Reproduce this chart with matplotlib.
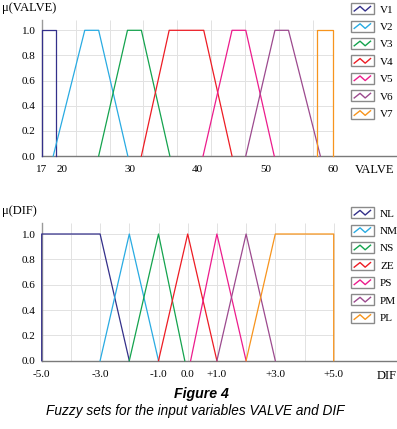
import numpy as np
import matplotlib
matplotlib.use('Agg')
import matplotlib.pyplot as plt
from matplotlib.legend_handler import HandlerBase
from matplotlib.patches import Rectangle
from matplotlib.lines import Line2D

# Conjuntos difusos de VALVE: esquinas del trapecio (a, b, c, d)
valve_labels = ['V1', 'V2', 'V3', 'V4', 'V5', 'V6', 'V7']
valve_a = [17.0, 18.7, 25.4, 31.7, 40.8, 47.1, 57.6]
valve_b = [17.0, 23.35, 29.65, 35.8, 45.07, 51.4, 57.6]
valve_c = [19.1, 25.4, 31.7, 40.9, 47.1, 53.4, 60.0]
valve_d = [19.1, 29.7, 35.9, 45.07, 51.3, 58.1, 60.0]
valve_ticks = [17, 20, 30, 40, 50, 60]

# Conjuntos difusos de DIF
dif_labels = ['NL', 'NM', 'NS', 'ZE', 'PS', 'PM', 'PL']
dif_a = [-5.0, -3.0, -2.0, -1.0, 0.1, 1.0, 2.0]
dif_b = [-5.0, -2.0, -1.0, 0.0, 1.0, 2.0, 3.0]
dif_c = [-3.0, -2.0, -1.0, 0.0, 1.0, 2.0, 5.0]
dif_d = [-2.0, -1.0, -0.1, 1.0, 2.0, 3.0, 5.0]
dif_ticks = [-5, -3, -1, 0, 1, 3, 5]
dif_ticklabels = ['-5.0', '-3.0', '-1.0', '0.0', '+1.0', '+3.0', '+5.0']

mu_ticks = [0.0, 0.2, 0.4, 0.6, 0.8, 1.0]

colores = ['#34308a', '#29abe2', '#14a34e', '#ed1c24', '#ec1c8c', '#9c4a8e', '#f7941d']

W, H = 397, 429
SERIF = 'Liberation Serif'


class ZigzagHandler(HandlerBase):
    # caja gris con una linea en zigzag, como en la leyenda original
    def create_artists(self, legend, orig_handle, xdescent, ydescent,
                       width, height, fontsize, trans):
        x0, y0 = -xdescent, -ydescent
        box = Rectangle((x0, y0), width, height, facecolor='white',
                        edgecolor='#8a8a8a', linewidth=1.0, transform=trans)
        xs = x0 + width * np.array([0.15, 0.4, 0.62, 0.85])
        ys = y0 + height * np.array([0.3, 0.72, 0.3, 0.72])
        zz = Line2D(xs, ys, color=orig_handle.get_color(), linewidth=1.0,
                    transform=trans)
        return [box, zz]


def panel(ax, a, b, c, d, labels, xmin, xmax_data, xmax, ymax, ticks, ticklabels):
    ax.set_xlim(xmin, xmax)
    ax.set_ylim(0, ymax)
    # rejilla
    for t in np.arange(xmin, xmax_data + 1e-9, 5 if xmax_data > 10 else 1):
        if t > xmin:
            ax.vlines(t, 0, ymax, color='#e2e2e2', linewidth=0.7, zorder=1)
    for m in mu_ticks[1:]:
        ax.hlines(m, xmin, xmax_data, color='#e2e2e2', linewidth=0.7, zorder=1)
    handles = []
    for i in range(len(labels)):
        h, = ax.plot([a[i], b[i], c[i], d[i]], [0, 1, 1, 0], color=colores[i],
                     linewidth=0.9, zorder=3, clip_on=False, label=labels[i])
        handles.append(h)
    for s in ['top', 'right']:
        ax.spines[s].set_visible(False)
    ax.spines['left'].set_color('#9a9a9a')
    ax.spines['bottom'].set_color('#7a7a7a')
    ax.spines['left'].set_linewidth(1.0)
    ax.spines['bottom'].set_linewidth(1.0)
    ax.set_xticks(ticks)
    ax.set_xticklabels(ticklabels, fontfamily=SERIF, fontsize=8)
    ax.set_yticks(mu_ticks)
    ax.set_yticklabels(['%.1f' % m for m in mu_ticks], fontfamily=SERIF, fontsize=8)
    ax.tick_params(axis='both', length=0)
    ax.tick_params(axis='y', pad=4.5)
    ax.tick_params(axis='x', pad=6.5)
    return handles


fig = plt.figure(figsize=(W / 100, H / 100), dpi=100)

# panel superior (VALVE)
px_u = 6.78
ax1 = fig.add_axes([41.7 / W, (H - 156) / H, (W - 41.7) / W, 1.08 * 125.7 / H])
h1 = panel(ax1, valve_a, valve_b, valve_c, valve_d, valve_labels,
           17, 60, 17 + (W - 41.7) / px_u, 1.08, valve_ticks,
           [str(t) for t in valve_ticks])

# panel inferior (DIF)
px_d = 29.2
ax2 = fig.add_axes([41.7 / W, (H - 360.7) / H, (W - 41.7) / W, 1.09 * 126.7 / H])
h2 = panel(ax2, dif_a, dif_b, dif_c, dif_d, dif_labels,
           -5, 5, -5 + (W - 41.7) / px_d, 1.09, dif_ticks, dif_ticklabels)

# leyendas
for handles, ytop in [(h1, 3.3), (h2, 207.3)]:
    fig.legend(handles=handles, handler_map={Line2D: ZigzagHandler()},
               loc='upper left', bbox_to_anchor=(350.7 / W, 1 - ytop / H),
               bbox_transform=fig.transFigure, frameon=False, borderpad=0,
               borderaxespad=0, prop={'family': SERIF, 'size': 8},
               handlelength=2.1, handleheight=1.15, labelspacing=0.55,
               handletextpad=0.55)

# titulos de ejes
fig.text(2 / W, 1 - 8 / H, 'μ(VALVE)', fontfamily=SERIF, fontsize=9, va='center', ha='left')
fig.text(355 / W, 1 - 173.3 / H, 'VALVE', fontfamily=SERIF, fontsize=9, va='baseline', ha='left')
fig.text(2 / W, 1 - 211 / H, 'μ(DIF)', fontfamily=SERIF, fontsize=9, va='center', ha='left')
fig.text(377 / W, 1 - 379.3 / H, 'DIF', fontfamily=SERIF, fontsize=9, va='baseline', ha='left')

# pie de figura
fig.text(201 / W, 1 - 394 / H, 'Figure 4', fontfamily='Liberation Sans', fontsize=10.2,
         fontweight='bold', fontstyle='italic', ha='center', va='center')
fig.text(195 / W, 1 - 411 / H, 'Fuzzy sets for the input variables VALVE and DIF',
         fontfamily='Liberation Sans', fontsize=9.8, fontstyle='italic',
         ha='center', va='center')

fig.savefig('out.png', dpi=100, facecolor='white')
